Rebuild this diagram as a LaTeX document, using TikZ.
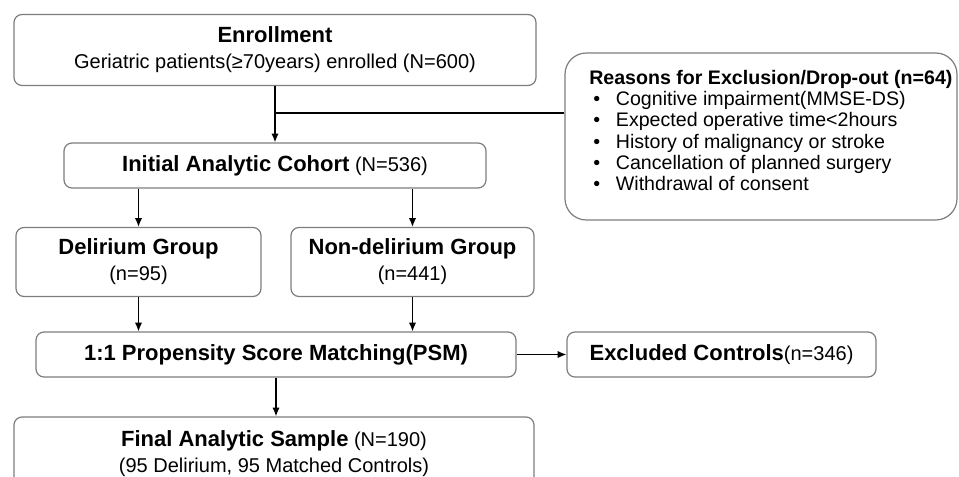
\documentclass[tikz,border=0pt]{standalone}
\usepackage{fontspec}
\setmainfont{Liberation Sans}
\usepackage{pgf,tikz}
\usetikzlibrary{arrows.meta}

\definecolor{boxgray}{RGB}{125,125,125}

\newcommand{\ttlfont}{\fontsize{16.5}{19}\selectfont\bfseries}
\newcommand{\regfont}{\fontsize{15}{19}\selectfont}
\newcommand{\itm}{\makebox[20pt][l]{\hspace{3pt}\textbullet}}

\tikzset{
  box/.style={draw=boxgray, line width=0.9pt, rounded corners=6pt, align=center, inner sep=0pt,
    font=\fontsize{15}{19.5}\selectfont},
  arr/.style={-{Latex[length=6.5pt,width=5.5pt]}, line width=1.1pt},
  lin/.style={line width=1.1pt},
}

\begin{document}
\begin{tikzpicture}[x=0.75pt,y=0.75pt,yscale=-1]
\clip (0,0) rectangle (959,477);

%Boxes
\node [box, minimum width=522*0.75pt, minimum height=71*0.75pt] (enroll) at (275,50)
  {{\ttlfont Enrollment}\\{\regfont Geriatric patients(≥70years) enrolled (N=600)}};
\node [box, minimum width=422*0.75pt, minimum height=45*0.75pt] (initial) at (275,165.5)
  {{\ttlfont Initial Analytic Cohort} {\regfont (N=536)}};
\node [box, minimum width=245*0.75pt, minimum height=69*0.75pt] (delirium) at (138.5,262)
  {{\ttlfont Delirium Group}\\{\regfont (n=95)}};
\node [box, minimum width=243*0.75pt, minimum height=69*0.75pt] (nondel) at (412.5,262)
  {{\ttlfont Non-delirium Group}\\{\regfont (n=441)}};
\node [box, minimum width=480*0.75pt, minimum height=45*0.75pt] (psm) at (276,354.5)
  {{\ttlfont 1:1 Propensity Score Matching(PSM)}};
\node [box, minimum width=309*0.75pt, minimum height=45*0.75pt] (excluded) at (721.5,354.5)
  {{\ttlfont Excluded Controls}{\regfont (n=346)}};
\node [box, minimum width=520*0.75pt, minimum height=74*0.75pt] (final) at (274,454)
  {{\ttlfont Final Analytic Sample} {\regfont (N=190)}\\{\regfont (95 Delirium, 95 Matched Controls)}};

%Reasons box
\node [box, rounded corners=16pt, minimum width=392*0.75pt, minimum height=167*0.75pt] (reasons) at (761,136.5) {};
\node [anchor=north west, inner sep=0pt, align=left, font=\fontsize{14.7}{15.9}\selectfont] (reasonstxt) at (589,70)
  {\textbf{Reasons for Exclusion/Drop-out (n=64)}\\
   \itm Cognitive impairment(MMSE-DS)\\
   \itm Expected operative time<2hours\\
   \itm History of malignancy or stroke\\
   \itm Cancellation of planned surgery\\
   \itm Withdrawal of consent};

%Connectors
\coordinate (split) at (275,113);
\draw [arr] (enroll.south) -- (initial.north);
\draw [lin] (split) -- (split -| reasons.west);
\draw [arr] (delirium.north |- initial.south) -- (delirium.north);
\draw [arr] (nondel.north |- initial.south) -- (nondel.north);
\draw [arr] (delirium.south) -- (delirium.south |- psm.north);
\draw [arr] (nondel.south) -- (nondel.south |- psm.north);
\draw [arr] (psm.east) -- (excluded.west);
\draw [arr] (psm.south) -- (psm.south |- final.north);

\end{tikzpicture}
\end{document}
